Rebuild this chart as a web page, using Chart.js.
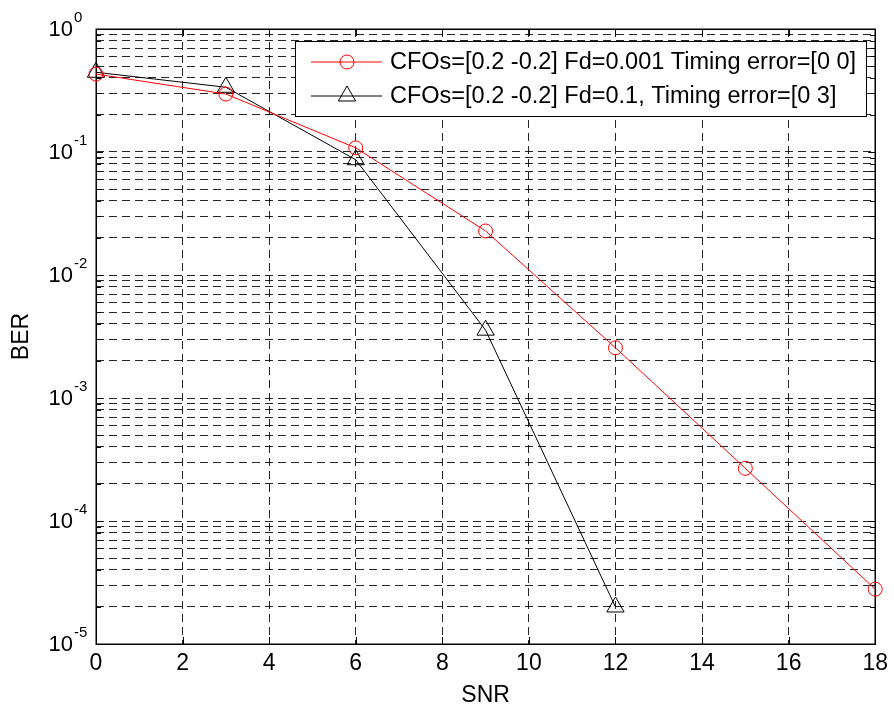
<!DOCTYPE html>
<html><head><meta charset="utf-8">
<script src="https://cdn.jsdelivr.net/npm/chart.js@4.4.0/dist/chart.umd.min.js"></script>
<style>html,body{margin:0;padding:0;background:#fff;}canvas{display:block;}</style>
</head><body>
<canvas id="c" width="894" height="705"></canvas>
<script>
// ---- data ----
const snrA = [0, 3, 6, 9, 12, 15, 18];
const berA = [0.43, 0.296, 0.108, 0.0228, 0.00256, 0.000268, 0.0000279];
const snrB = [0, 3, 6, 9, 12];
const berB = [0.445, 0.336, 0.0865, 0.00356, 0.00002];
const labelA = 'CFOs=[0.2 -0.2] Fd=0.001 Timing error=[0 0]';
const labelB = 'CFOs=[0.2 -0.2] Fd=0.1, Timing error=[0 3]';
const xTicks = [0, 2, 4, 6, 8, 10, 12, 14, 16, 18];
const yDecadeExponents = [0, -1, -2, -3, -4, -5];
const yTickBase = '10';
const yTickExp = ['0', '-1', '-2', '-3', '-4', '-5'];
const xTitle = 'SNR';
const yTitle = 'BER';

const FONT = 'Arial, "Liberation Sans", Helvetica, sans-serif';

// grid values for log axis: 1..9 x 10^e
const yGrid = [];
for (let e = -5; e <= 0; e++) {
  for (let m = 1; m <= 9; m++) {
    const v = m * Math.pow(10, e);
    if (v <= 1.0000001) yGrid.push(+v.toPrecision(3));
  }
}

const decorPlugin = {
  id: 'decor',
  beforeDatasetsDraw(chart) {
    const {ctx, chartArea: a, scales} = chart;
    ctx.save();
    ctx.strokeStyle = '#000';
    ctx.lineWidth = 1;
    ctx.setLineDash([]);
    ctx.beginPath();
    xTicks.forEach(v => {
      const px = Math.round(scales.x.getPixelForValue(v)) + 0.5;
      ctx.moveTo(px, a.bottom); ctx.lineTo(px, a.bottom - 7);
      ctx.moveTo(px, a.top); ctx.lineTo(px, a.top + 7);
    });
    yGrid.forEach(v => {
      const py = Math.round(scales.y.getPixelForValue(v)) + 0.5;
      const len = yDecadeExponents.some(e => Math.abs(Math.log10(v) - e) < 1e-6) ? 7 : 5;
      ctx.moveTo(a.left, py); ctx.lineTo(a.left + len, py);
      ctx.moveTo(a.right, py); ctx.lineTo(a.right - len, py);
    });
    ctx.stroke();
    ctx.lineWidth = 1.5;
    ctx.strokeRect(Math.round(a.left) + 0.25, Math.round(a.top) + 0.25, Math.round(a.right - a.left), Math.round(a.bottom - a.top));
    ctx.restore();
  },
  afterDraw(chart) {
    const {ctx, chartArea: a, scales} = chart;
    ctx.save();
    // y tick labels 10^n
    yDecadeExponents.forEach((e, i) => {
      const py = scales.y.getPixelForValue(Math.pow(10, e));
      ctx.fillStyle = '#000';
      ctx.font = '22px ' + FONT;
      ctx.textAlign = 'right';
      ctx.textBaseline = 'middle';
      ctx.fillText(yTickBase, 73, py + 0.5);
      ctx.font = '15px ' + FONT;
      ctx.textAlign = 'left';
      ctx.textBaseline = 'alphabetic';
      ctx.fillText(yTickExp[i], 74, py - 7);
    });
    // legend
    const L = 295.5, T = 41.5, R = 866.5, B = 116.5;
    ctx.fillStyle = '#fff';
    ctx.fillRect(L, T, R - L, B - T);
    ctx.strokeStyle = '#000';
    ctx.lineWidth = 1;
    ctx.strokeRect(L, T, R - L, B - T);
    const rows = [62, 96];
    chart.data.datasets.forEach((ds, i) => {
      const y = rows[i];
      ctx.strokeStyle = ds.borderColor;
      ctx.lineWidth = 1;
      ctx.beginPath();
      ctx.moveTo(311, y); ctx.lineTo(382, y);
      ctx.stroke();
      ctx.fillStyle = 'rgba(0,0,0,0)';
      ctx.strokeStyle = ds.pointBorderColor;
      Chart.helpers.drawPoint(ctx, {pointStyle: ds.pointStyle, radius: ds.pointRadius, borderWidth: 1, rotation: 0}, 347, y);
      ctx.fillStyle = '#000';
      ctx.font = '23.5px ' + FONT;
      ctx.textAlign = 'left';
      ctx.textBaseline = 'middle';
      ctx.fillText(ds.label, 390, y + 1);
    });
    ctx.restore();
  }
};

new Chart(document.getElementById('c'), {
  type: 'line',
  data: {
    datasets: [
      {
        label: labelA,
        data: snrA.map((x, i) => ({x, y: berA[i]})),
        borderColor: '#ff0000', borderWidth: 1,
        pointStyle: 'circle', pointRadius: 7,
        pointBorderColor: '#ff0000', pointBackgroundColor: 'rgba(0,0,0,0)', pointBorderWidth: 1,
        tension: 0, clip: false
      },
      {
        label: labelB,
        data: snrB.map((x, i) => ({x, y: berB[i]})),
        borderColor: '#000000', borderWidth: 1,
        pointStyle: 'triangle', pointRadius: 10,
        pointBorderColor: '#000000', pointBackgroundColor: 'rgba(0,0,0,0)', pointBorderWidth: 1,
        tension: 0, clip: false
      }
    ]
  },
  options: {
    responsive: false,
    animation: false,
    events: [],
    layout: {padding: {top: 29, right: 16, left: 0, bottom: 0}},
    plugins: {legend: {display: false}, tooltip: {enabled: false}},
    scales: {
      x: {
        type: 'linear', min: 0, max: 18,
        afterBuildTicks: s => { s.ticks = xTicks.map(v => ({value: v})); },
        afterFit: s => { s.height = 61; },
        ticks: {font: {size: 23, family: FONT}, color: '#000', padding: 6, maxRotation: 0, autoSkip: false},
        grid: {color: 'rgba(0,0,0,0.85)', lineWidth: 1, drawTicks: false},
        border: {display: false, dash: [8, 5]},
        title: {display: true, text: xTitle, color: '#000', font: {size: 23, family: FONT, lineHeight: 0.85}, padding: {top: 0, bottom: 0}}
      },
      y: {
        type: 'logarithmic', min: 1e-5, max: 1,
        afterBuildTicks: s => { s.ticks = yGrid.map(v => ({value: v})); },
        afterFit: s => { s.width = 96; },
        ticks: {display: false},
        grid: {color: 'rgba(0,0,0,0.85)', lineWidth: 1, drawTicks: false},
        border: {display: false, dash: [8, 5]},
        title: {display: true, text: yTitle, color: '#000', font: {size: 23, family: FONT}, padding: {top: 8, bottom: 0}}
      }
    }
  },
  plugins: [decorPlugin]
});
</script>
</body></html>
